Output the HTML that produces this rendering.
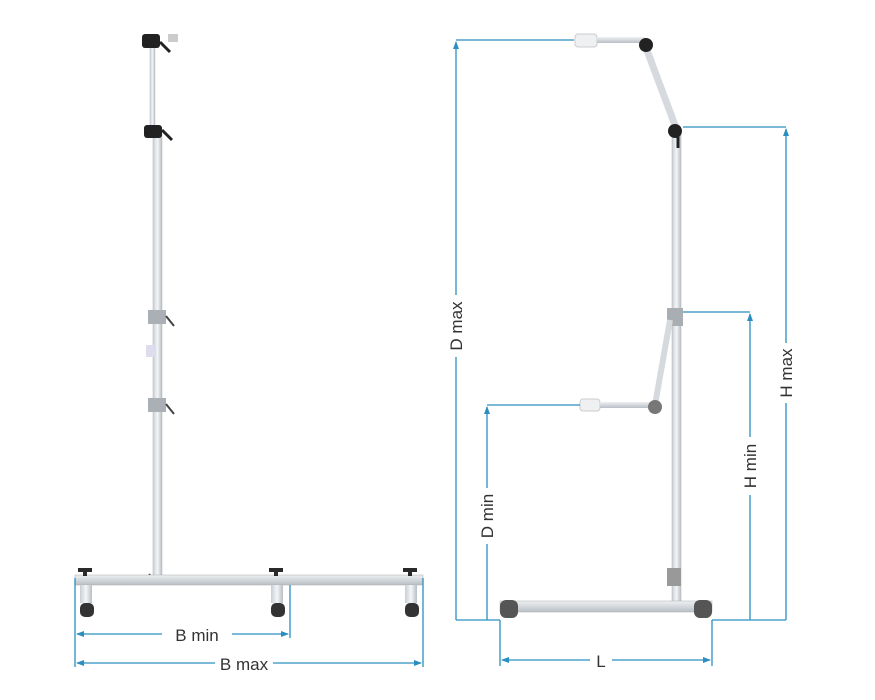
<!DOCTYPE html>
<html><head><meta charset="utf-8"><style>body{margin:0;background:#fff}svg{display:block}text{font-family:"Liberation Sans",sans-serif;font-size:17px;fill:#333}</style></head><body>
<svg width="875" height="700" viewBox="0 0 875 700">
<defs>
<marker id="a" markerWidth="8" markerHeight="8" refX="7" refY="4" orient="auto-start-reverse" markerUnits="userSpaceOnUse"><path d="M0,1 L8,4 L0,7z" fill="#2a8fc0"/></marker>
<linearGradient id="p" x1="0" x2="1"><stop offset="0" stop-color="#c9ced3"/><stop offset=".5" stop-color="#f4f6f8"/><stop offset="1" stop-color="#b8bec4"/></linearGradient>
<linearGradient id="h" x1="0" y1="0" x2="0" y2="1"><stop offset="0" stop-color="#eef1f3"/><stop offset="1" stop-color="#b9bfc5"/></linearGradient>
</defs>
<!-- LEFT STAND -->
<rect x="150" y="40" width="5" height="92" fill="url(#p)" stroke="#bbb" stroke-width=".5"/>
<rect x="153" y="132" width="9" height="445" fill="url(#p)" stroke="#b5b5b5" stroke-width=".5"/>
<rect x="148" y="310" width="18" height="14" fill="#aab0b5"/>
<rect x="148" y="398" width="18" height="14" fill="#aab0b5"/>
<rect x="146" y="345" width="10" height="12" fill="#dde" />
<rect x="142" y="34" width="18" height="14" rx="3" fill="#222"/>
<path d="M160,42 l10,10" stroke="#222" stroke-width="3"/>
<rect x="168" y="34" width="10" height="8" fill="#ccc"/>
<rect x="144" y="125" width="18" height="13" rx="3" fill="#222"/>
<path d="M162,130 l10,10" stroke="#222" stroke-width="3"/>
<path d="M166,316 l8,10 M166,404 l8,10 M150,574 l-4,8" stroke="#444" stroke-width="2"/>
<rect x="75" y="575" width="348" height="10" fill="url(#h)" stroke="#aaa" stroke-width=".5"/>
<g fill="#2a2a2a">
<path d="M78,568 h14 v4 h-5 v4 h-4 v-4 h-5z"/><path d="M269,568 h14 v4 h-5 v4 h-4 v-4 h-5z"/><path d="M403,568 h14 v4 h-5 v4 h-4 v-4 h-5z"/>
</g>
<g fill="url(#p)"><rect x="80" y="585" width="12" height="18"/><rect x="271" y="585" width="12" height="18"/><rect x="405" y="585" width="12" height="18"/></g>
<g fill="#333"><rect x="80" y="603" width="14" height="14" rx="5"/><rect x="271" y="603" width="14" height="14" rx="5"/><rect x="405" y="603" width="14" height="14" rx="5"/></g>
<!-- RIGHT STAND -->
<rect x="575" y="34" width="22" height="13" rx="3" fill="#eef0f2" stroke="#ccc"/>
<rect x="597" y="37" width="48" height="6" fill="url(#h)"/>
<path d="M645,45 L676,128" stroke="#d6dade" stroke-width="7"/>
<circle cx="646" cy="45" r="7" fill="#222"/>
<rect x="672" y="130" width="9" height="472" fill="url(#p)" stroke="#b5b5b5" stroke-width=".5"/>
<circle cx="675" cy="131" r="7" fill="#222"/>
<path d="M678,136 v12" stroke="#222" stroke-width="3"/>
<rect x="667" y="308" width="16" height="18" fill="#a9aeb3"/>
<rect x="667" y="568" width="14" height="18" fill="#999"/>
<path d="M670,320 L655,405" stroke="#d6dade" stroke-width="6"/>
<rect x="580" y="399" width="20" height="12" rx="3" fill="#eef0f2" stroke="#ccc"/>
<rect x="600" y="402" width="50" height="6" fill="url(#h)"/>
<circle cx="655" cy="407" r="7" fill="#777"/>
<rect x="500" y="601" width="212" height="11" fill="url(#h)" stroke="#aaa" stroke-width=".5"/>
<rect x="500" y="600" width="18" height="18" rx="6" fill="#555"/>
<rect x="694" y="600" width="18" height="18" rx="6" fill="#555"/>
<!-- DIMENSIONS -->
<g stroke="#2a8fc0" stroke-width="1.3" fill="none">
<path d="M75,578 V667 M423,578 V667 M290,585 V638"/>
<path d="M77,634 H288" marker-start="url(#a)" marker-end="url(#a)"/>
<path d="M77,663 H421" marker-start="url(#a)" marker-end="url(#a)"/>
<path d="M456,40 H574 M456,620 H500 M712,620 H786 M683,127 H786 M683,312 H750 M487,405 H580"/>
<path d="M456,620 V42" marker-end="url(#a)"/>
<path d="M786,620 V129" marker-end="url(#a)"/>
<path d="M750,620 V314" marker-end="url(#a)"/>
<path d="M487,620 V407" marker-end="url(#a)"/>
<path d="M500,620 V666 M712,620 V666"/>
<path d="M502,660 H710" marker-start="url(#a)" marker-end="url(#a)"/>
</g>
<g fill="#fff"><rect x="162" y="624" width="70" height="20"/><rect x="215" y="653" width="58" height="20"/><rect x="590" y="650" width="22" height="20"/><rect x="446" y="295" width="20" height="62"/><rect x="776" y="343" width="20" height="60"/><rect x="740" y="437" width="20" height="58"/><rect x="477" y="488" width="20" height="56"/></g>
<text x="197" y="641" text-anchor="middle">B min</text>
<text x="244" y="670" text-anchor="middle">B max</text>
<text x="601" y="667" text-anchor="middle">L</text>
<text transform="translate(462,326) rotate(-90)" text-anchor="middle">D max</text>
<text transform="translate(792,373) rotate(-90)" text-anchor="middle">H max</text>
<text transform="translate(756,466) rotate(-90)" text-anchor="middle">H min</text>
<text transform="translate(493,516) rotate(-90)" text-anchor="middle">D min</text>
</svg>
</body></html>
